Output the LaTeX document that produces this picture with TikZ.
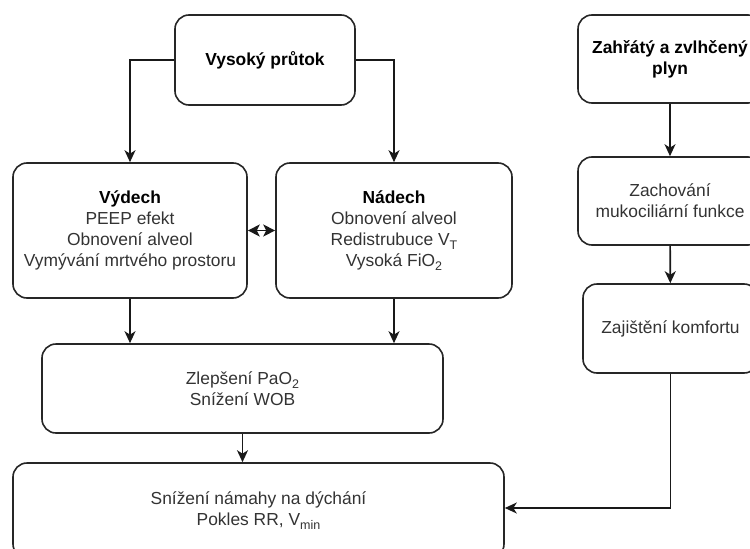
\documentclass[tikz,border=0pt]{standalone}
\usepackage{fontspec}
\setmainfont{Liberation Sans}
\usetikzlibrary{arrows.meta}
% lowered small index (V_T, FiO_2, ...)
\newcommand\sbs[1]{\raisebox{-0.45ex}{\fontsize{12.5}{12}\selectfont #1}}
\begin{document}
\begin{tikzpicture}[x=1pt,y=-1pt,
  box/.style={draw=black!85, line width=1.6pt, rounded corners=14pt, align=center,
    inner sep=0pt, text=black!80, font=\fontsize{17.4}{21}\selectfont},
  link/.style={draw=black!90, line width=1.6pt, -{Stealth[length=12pt,width=11pt,inset=3.5pt]}},
  both/.style={draw=black!90, line width=1.6pt,
    {Stealth[length=12pt,width=12pt,inset=3pt]}-{Stealth[length=12pt,width=12pt,inset=3pt]}}]
\useasboundingbox (0,0) rectangle (750,549);

% left branch
\node[box, minimum width=180pt, minimum height=90pt] (top) at (265,60)
  {\textcolor{black}{\bfseries Vysoký průtok}};
\node[box, minimum width=234pt, minimum height=135pt] (vyd) at (130,230.5)
  {\textcolor{black}{\bfseries Výdech}\\PEEP efekt\\Obnovení alveol\\Vymývání mrtvého prostoru};
\node[box, minimum width=236pt, minimum height=135pt] (nad) at (394,230.5)
  {\textcolor{black}{\bfseries Nádech}\\Obnovení alveol\\Redistrubuce V\sbs{T}\\Vysoká FiO\sbs{2}};
\node[box, minimum width=401pt, minimum height=89pt] (zlep) at (242.5,388.5)
  {Zlepšení PaO\sbs{2}\\Snížení WOB};
\node[box, minimum width=491pt, minimum height=95pt] (dole) at (258.5,510.5)
  {Snížení námahy na dýchání\\Pokles RR, V\sbs{min}};

% right branch
\node[box, minimum width=184pt, minimum height=88pt] (zah) at (670,59)
  {\textcolor{black}{\bfseries Zahřátý a zvlhčený}\\\textcolor{black}{\bfseries plyn}};
\node[box, minimum width=184pt, minimum height=88pt] (zach) at (670,201)
  {Zachování\\mukociliární funkce};
\node[box, minimum width=175pt, minimum height=89pt] (zaj) at (670.5,328.5)
  {Zajištění komfortu};

% connectors
\draw[link] (top.west) -| (vyd.north);
\draw[link] (top.east) -| (nad.north);
\draw[both] (vyd) -- (nad);
\draw[link] (vyd.south) -- (vyd.south |- zlep.north);
\draw[link] (nad.south) -- (nad.south |- zlep.north);
\draw[link] (zlep.south) -- (zlep.south |- dole.north);
\draw[link] (zah) -- (zach);
\draw[link] (zach) -- (zaj);
\draw[link] (zaj.south) |- ([yshift=2.5pt]dole.east);
\end{tikzpicture}
\end{document}
